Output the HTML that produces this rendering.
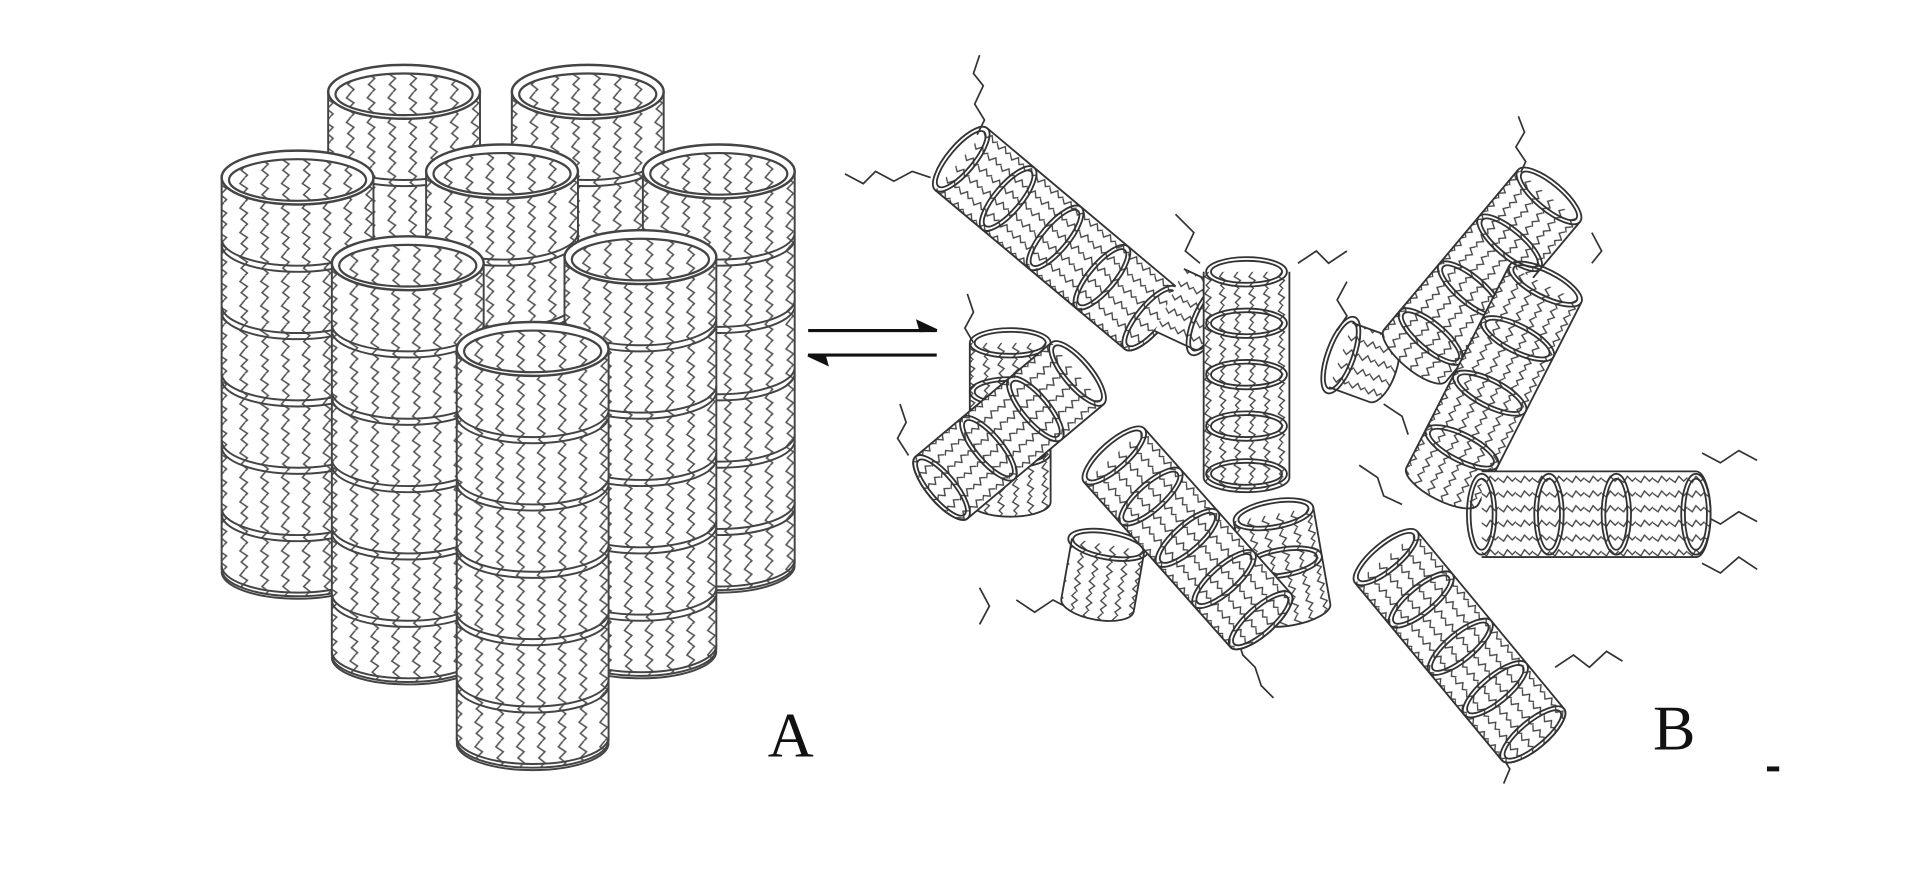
<!DOCTYPE html>
<html><head><meta charset="utf-8"><style>html,body{margin:0;padding:0;background:#fff;}svg{display:block}</style></head><body>
<svg width="1920" height="884" viewBox="0 0 1568 722" preserveAspectRatio="none" xmlns="http://www.w3.org/2000/svg">
<defs>
<pattern id="z" width="17" height="20" patternUnits="userSpaceOnUse">
<rect width="17" height="20" fill="#fff"/>
<path d="M8 0 L4 5 L10 9 L5 14 L10 18 L8 20" fill="none" stroke="#555" stroke-width="1.3"/>
</pattern>
<pattern id="zs" width="12" height="14" patternUnits="userSpaceOnUse">
<rect width="12" height="14" fill="#fff"/>
<path d="M5 0 L2 4 L7 7 L3 11 L6 14" fill="none" stroke="#444" stroke-width="1.1"/>
</pattern>
<g id="bandA" fill="none" stroke="#444" stroke-width="1.6">
<path d="M-62 0 A62 22 0 0 0 62 0"/><path d="M-62 -5 A62 22 0 0 0 62 -5"/>
</g>
<g id="topA">
<ellipse cx="0" cy="0" rx="62" ry="22" fill="#fff" stroke="#444" stroke-width="2"/>
<ellipse cx="0" cy="2" rx="56" ry="17" fill="url(#z)" stroke="#444" stroke-width="1.8"/>
</g>
<g id="bandB" fill="none" stroke="#333" stroke-width="1.5">
<ellipse cx="0" cy="0" rx="33" ry="12"/><ellipse cx="0" cy="0" rx="29" ry="9"/>
</g>
</defs>
<rect width="1568" height="722" fill="#fff"/>

<g transform="translate(330,75)">
<path d="M-62 0 V320 A62 22 0 0 0 62 320 V0" fill="url(#z)" stroke="#444" stroke-width="1.6"/>
<use href="#bandA" y="55"/><use href="#topA"/></g>
<g transform="translate(480,75)">
<path d="M-62 0 V320 A62 22 0 0 0 62 320 V0" fill="url(#z)" stroke="#444" stroke-width="1.6"/>
<use href="#bandA" y="55"/><use href="#topA"/></g>
<g transform="translate(243,145)">
<path d="M-62 0 V320 A62 22 0 0 0 62 320 V0" fill="url(#z)" stroke="#444" stroke-width="1.6"/>
<use href="#bandA" y="55"/><use href="#bandA" y="110"/><use href="#bandA" y="165"/><use href="#bandA" y="220"/><use href="#bandA" y="275"/><use href="#bandA" y="322"/><use href="#topA"/></g>
<g transform="translate(587,140)">
<path d="M-62 0 V320 A62 22 0 0 0 62 320 V0" fill="url(#z)" stroke="#444" stroke-width="1.6"/>
<use href="#bandA" y="55"/><use href="#bandA" y="110"/><use href="#bandA" y="165"/><use href="#bandA" y="220"/><use href="#bandA" y="275"/><use href="#bandA" y="322"/><use href="#topA"/></g>
<g transform="translate(410,140)">
<path d="M-62 0 V320 A62 22 0 0 0 62 320 V0" fill="url(#z)" stroke="#444" stroke-width="1.6"/>
<use href="#bandA" y="55"/><use href="#bandA" y="110"/><use href="#topA"/></g>
<g transform="translate(333,215)">
<path d="M-62 0 V320 A62 22 0 0 0 62 320 V0" fill="url(#z)" stroke="#444" stroke-width="1.6"/>
<use href="#bandA" y="55"/><use href="#bandA" y="110"/><use href="#bandA" y="165"/><use href="#bandA" y="220"/><use href="#bandA" y="275"/><use href="#bandA" y="322"/><use href="#topA"/></g>
<g transform="translate(523,210)">
<path d="M-62 0 V320 A62 22 0 0 0 62 320 V0" fill="url(#z)" stroke="#444" stroke-width="1.6"/>
<use href="#bandA" y="55"/><use href="#bandA" y="110"/><use href="#bandA" y="165"/><use href="#bandA" y="220"/><use href="#bandA" y="275"/><use href="#bandA" y="322"/><use href="#topA"/></g>
<g transform="translate(435,285)">
<path d="M-62 0 V320 A62 22 0 0 0 62 320 V0" fill="url(#z)" stroke="#444" stroke-width="1.6"/>
<use href="#bandA" y="55"/><use href="#bandA" y="110"/><use href="#bandA" y="165"/><use href="#bandA" y="220"/><use href="#bandA" y="275"/><use href="#bandA" y="322"/><use href="#topA"/></g>

<g stroke="#111" stroke-width="2.5" fill="#111">
<line x1="660" y1="270" x2="755" y2="270"/><path d="M765 270 L750 263 L752 270 Z"/>
<line x1="668" y1="290" x2="765" y2="290"/><path d="M660 290 L675 297 L673 290 Z"/>
</g>

<g fill="none" stroke="#333" stroke-width="1.4">
<path d="M800 45 L795 60 L803 70 L796 85 L804 98 L798 110"/>
<path d="M690 142 L705 150 L715 140 L730 148 L745 140 L760 145"/>
<path d="M1240 95 L1245 108 L1238 120 L1246 132 L1240 145"/>
<path d="M1300 190 L1308 205 L1300 215"/>
<path d="M960 175 L975 190 L968 205 L980 215"/>
<path d="M1060 215 L1075 205 L1085 215 L1100 205"/>
<path d="M1100 230 L1092 245 L1100 258 L1092 270"/>
<path d="M735 330 L740 345 L733 358 L742 372"/>
<path d="M790 240 L795 255 L788 268 L795 280"/>
<path d="M1390 370 L1405 378 L1420 368 L1435 376"/>
<path d="M1390 420 L1405 428 L1420 418 L1435 426"/>
<path d="M1390 460 L1405 468 L1420 455 L1435 465"/>
<path d="M1270 545 L1285 535 L1298 545 L1312 532 L1325 540"/>
<path d="M1230 600 L1225 615 L1233 628 L1228 640"/>
<path d="M1010 520 L1015 535 L1025 545 L1030 560 L1040 570"/>
<path d="M1110 380 L1125 390 L1130 405 L1145 412"/>
<path d="M1130 330 L1145 340 L1150 355"/>
<path d="M800 480 L808 495 L800 510"/>
<path d="M830 490 L845 500 L860 490 L875 498"/>
</g>

<g transform="translate(825,280)">
<path d="M-33 0 V130 A33 12 0 0 0 33 130 V0" fill="url(#zs)" stroke="#333" stroke-width="1.5"/>
<use href="#bandB" y="40"/><use href="#bandB" y="90"/><use href="#bandB"/></g>
<g transform="translate(1040,420) rotate(-10)">
<path d="M-33 0 V80 A33 12 0 0 0 33 80 V0" fill="url(#zs)" stroke="#333" stroke-width="1.5"/>
<use href="#bandB" y="40"/><use href="#bandB"/></g>
<g transform="translate(905,445) rotate(10)">
<path d="M-30 0 V50 A30 12 0 0 0 30 50 V0" fill="url(#zs)" stroke="#333" stroke-width="1.5"/>
<use href="#bandB"/></g>
<g transform="translate(785,130) rotate(-50)">
<path d="M-33 0 V202 A33 12 0 0 0 33 202 V0" fill="url(#zs)" stroke="#333" stroke-width="1.5"/>
<use href="#bandB" y="50"/><use href="#bandB" y="100"/><use href="#bandB" y="150"/><use href="#bandB" y="202"/><use href="#bandB"/></g>
<g transform="translate(955,245) rotate(-65)">
<path d="M-28 0 V35 A28 12 0 0 0 28 35 V0" fill="url(#zs)" stroke="#333" stroke-width="1.5"/>
<use href="#bandB" y="35"/></g>
<g transform="translate(1018,222)">
<path d="M-35 0 V168 A35 12 0 0 0 35 168 V0" fill="url(#zs)" stroke="#333" stroke-width="1.5"/>
<use href="#bandB" y="42"/><use href="#bandB" y="84"/><use href="#bandB" y="126"/><use href="#bandB" y="165"/><use href="#bandB"/></g>
<g transform="translate(1095,290) rotate(-70)">
<path d="M-28 0 V35 A28 12 0 0 0 28 35 V0" fill="url(#zs)" stroke="#333" stroke-width="1.5"/>
<use href="#bandB"/></g>
<g transform="translate(1265,160) rotate(40)">
<path d="M-33 0 V170 A33 12 0 0 0 33 170 V0" fill="url(#zs)" stroke="#333" stroke-width="1.5"/>
<use href="#bandB" y="50"/><use href="#bandB" y="100"/><use href="#bandB" y="150"/><use href="#bandB"/></g>
<g transform="translate(1262,232) rotate(27)">
<path d="M-33 0 V185 A33 12 0 0 0 33 185 V0" fill="url(#zs)" stroke="#333" stroke-width="1.5"/>
<use href="#bandB" y="50"/><use href="#bandB" y="100"/><use href="#bandB" y="150"/><use href="#bandB"/></g>
<g transform="translate(880,305) rotate(50)">
<path d="M-33 0 V145 A33 12 0 0 0 33 145 V0" fill="url(#zs)" stroke="#333" stroke-width="1.5"/>
<use href="#bandB" y="45"/><use href="#bandB" y="95"/><use href="#bandB" y="145"/><use href="#bandB"/></g>
<g transform="translate(910,372) rotate(-41.6)">
<path d="M-33 0 V180 A33 12 0 0 0 33 180 V0" fill="url(#zs)" stroke="#333" stroke-width="1.5"/>
<use href="#bandB" y="45"/><use href="#bandB" y="90"/><use href="#bandB" y="135"/><use href="#bandB" y="180"/><use href="#bandB"/></g>
<g transform="translate(1210,420) rotate(-90)">
<path d="M-35 0 V175 A35 12 0 0 0 35 175 V0" fill="url(#zs)" stroke="#333" stroke-width="1.5"/>
<use href="#bandB" y="55"/><use href="#bandB" y="110"/><use href="#bandB" y="175"/><use href="#bandB"/></g>
<g transform="translate(1132,455) rotate(-39.6)">
<path d="M-33 0 V188 A33 12 0 0 0 33 188 V0" fill="url(#zs)" stroke="#333" stroke-width="1.5"/>
<use href="#bandB" y="45"/><use href="#bandB" y="95"/><use href="#bandB" y="140"/><use href="#bandB" y="188"/><use href="#bandB"/></g>

<text x="627" y="618" font-family="Liberation Serif, serif" font-size="52" fill="#111">A</text>
<text x="1350" y="612" font-family="Liberation Serif, serif" font-size="52" fill="#111">B</text>
<rect x="1443" y="626" width="10" height="4" fill="#111"/>
</svg>
</body></html>
